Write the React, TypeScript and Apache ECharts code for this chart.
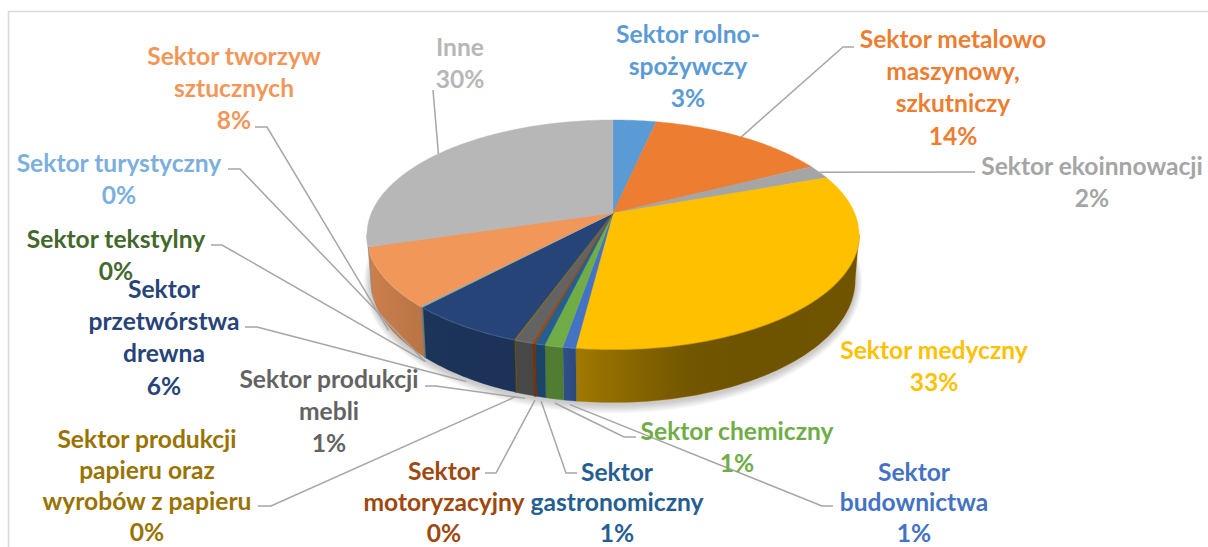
import React, { useEffect, useRef } from "react";
import * as echarts from "echarts";

const sectorLabels = [
  "Sektor rolno-\nspożywczy",
  "Sektor metalowo\nmaszynowy,\nszkutniczy",
  "Sektor ekoinnowacji",
  "Sektor medyczny",
  "Sektor\nbudownictwa",
  "Sektor chemiczny",
  "Sektor\ngastronomiczny",
  "Sektor\nmotoryzacyjny",
  "Sektor produkcji\nmebli",
  "Sektor produkcji\npapieru oraz\nwyrobów z papieru",
  "Sektor\nprzetwórstwa\ndrewna",
  "Sektor tekstylny",
  "Sektor turystyczny",
  "Sektor tworzyw\nsztucznych",
  "Inne",
];
const sectorValues = [3.4, 14.1, 2.0, 32.5, 0.7, 1.0, 0.55, 0.15, 1.0, 0.05, 6.4, 0.05, 0.1, 8.3, 29.7];
const sectorColors = [
  "#5B9BD5", "#ED7D31", "#A5A5A5", "#FFC000", "#4472C4", "#70AD47", "#255E91", "#9E480E",
  "#636363", "#997300", "#264478", "#43682B", "#7CAFDD", "#F1975A", "#B7B7B7",
];
const rimTints = [1.25, 1.25, 1.25, 0.86, 1.25, 1.25, 1.25, 1.25, 1.25, 1.25, 1.25, 1.25, 1.25, 1.25, 1.25];
const labelCentres = [
  [688, 33], [953, 38], [1092, 165], [934, 349], [914, 471], [737, 430], [617, 471], [444, 470],
  [329, 378], [147, 438.5], [164, 288], [116, 238], [119, 162], [234, 55], [460, 46],
];
const labelLineHeights = [32.4, 32.4, 32.4, 32.4, 30.5, 32.4, 30.5, 31, 32.4, 31, 32.4, 32.4, 32.4, 32.4, 32.4];
const leaderElbows: (number[][] | null)[] = [
  null,
  [[843, 47], [854, 47]],
  [[975, 172]],
  null,
  [[822, 506], [833, 506]],
  [[624, 437], [636, 437]],
  [[566, 473], [577, 473]],
  [[496, 473], [485, 473]],
  [[436, 386], [425, 386]],
  [[271, 506], [258, 506]],
  [[257, 327], [245, 327]],
  [[222, 245], [211, 245]],
  [[240, 169], [228, 169]],
  [[267, 127], [255, 127]],
  [[433, 90]],
];

// Perspective disc
const CX = 613, CY = 213, A = 241.6, B = 110.5, K = 0.188;
const ELL_CY = 234.5, BOTTOM_CY = 280, DEPTH_SCALE = 1.07, LOWER_X = 0.985;
const SIDE_FROM = 100.8, SIDE_TO = 259.2;
const rad = (d: number) => (d * Math.PI) / 180;
const topPoint = (deg: number) => {
  const s = Math.sin(rad(deg)), c = Math.cos(rad(deg));
  const w = 1 + K * c;
  return [CX + (A * s) / w, CY - (B * c) / w];
};
const lowerPoint = (p: number[]) => [
  CX + (p[0] - CX) * LOWER_X,
  BOTTOM_CY + (p[1] - ELL_CY) * DEPTH_SCALE,
];
const total = sectorValues.reduce((a, b) => a + b, 0);
const starts: number[] = [];
sectorValues.reduce((acc, v, i) => {
  starts[i] = (acc / total) * 360;
  return acc + v;
}, 0);
const angleOf = (i: number) => [starts[i], starts[i] + (sectorValues[i] / total) * 360];
const arcAngles = (a: number, b: number) => {
  const n = Math.max(1, Math.ceil((b - a) / 1));
  const out: number[] = [];
  for (let i = 0; i <= n; i++) out.push(a + ((b - a) * i) / n);
  return out;
};
const shadeStops = [[367, 0.85], [430, 0.75], [560, 0.72], [578, 0.62], [700, 0.43], [860, 0.44]];
const shadeAt = (x: number) => {
  for (let i = 1; i < shadeStops.length; i++) {
    if (x <= shadeStops[i][0]) {
      const [x0, f0] = shadeStops[i - 1], [x1, f1] = shadeStops[i];
      return f0 + ((f1 - f0) * (x - x0)) / (x1 - x0);
    }
  }
  return 0.44;
};
const tint = (hex: string, f: number) => {
  const n = parseInt(hex.slice(1), 16);
  const ch = [(n >> 16) & 255, (n >> 8) & 255, n & 255].map((v) =>
    f <= 1 ? Math.round(v * f) : Math.round(v + (255 - v) * (f - 1)));
  return `rgb(${ch[0]},${ch[1]},${ch[2]})`;
};

const SHADOW_STEPS = [9, 8, 7, 6, 5, 4, 3, 2, 1];

const renderSlice = (params: any) => {
  const i = params.dataIndex;
  const [a, b] = angleOf(i);
  const color = sectorColors[i];
  const thin = b - a < 1;
  const children: any[] = [];
  if (i === 0) {
    const outline = arcAngles(0, 360).map((d) => lowerPoint(topPoint(d)));
    SHADOW_STEPS.forEach((g) => {
      const sx = (246 + g * 0.8) / 246, sy = (123 + g) / 123;
      children.push({
        type: "polygon",
        shape: { points: outline.map((p) => [CX + (p[0] - CX) * sx, BOTTOM_CY + 2 + (p[1] - BOTTOM_CY) * sy]) },
        style: { fill: "rgba(0,0,0,0.022)" },
      });
    });
  }
  const sa = Math.max(a, SIDE_FROM), sb = Math.min(b, SIDE_TO);
  if (sb > sa) {
    const up = arcAngles(sa, sb).map(topPoint);
    const low = up.map(lowerPoint).reverse();
    const xs = up.map((p) => p[0]);
    const x0 = Math.min(...xs), x1 = Math.max(...xs);
    const stops = [0, 0.2, 0.4, 0.6, 0.8, 1].map((o) => ({
      offset: o,
      color: tint(color, shadeAt(x0 + (x1 - x0) * o)),
    }));
    children.push({
      type: "polygon",
      shape: { points: [...up, ...low] },
      style: {
        fill: new echarts.graphic.LinearGradient(0, 0, 1, 0, stops),
        stroke: tint(color, 0.7),
        lineWidth: thin ? 1 : 0.3,
      },
    });
    children.push({
      type: "polyline",
      shape: { points: up },
      style: { fill: "none", stroke: tint(color, rimTints[i]), lineWidth: 2, opacity: 0.75 },
    });
  }
  children.push({
    type: "polygon",
    shape: { points: [[CX, CY], ...arcAngles(a, b).map(topPoint)] },
    style: { fill: color, stroke: color, lineWidth: thin ? 1 : 0.4 },
  });
  return { type: "group", children };
};

const leaderAnchor = (i: number) => {
  const [a, b] = angleOf(i);
  const mid = (a + b) / 2;
  const p = topPoint(mid);
  if (mid < SIDE_FROM || mid > SIDE_TO) return p;
  const q = lowerPoint(p);
  return [q[0], q[1] + 4];
};

const FONT = 'bold 24.6px Lato, "Open Sans", sans-serif';

export default function App() {
  const ref = useRef<HTMLDivElement>(null);
  useEffect(() => {
    const chart = echarts.init(ref.current!, undefined, { renderer: "svg" });
    const leaders = leaderElbows.flatMap((elbow, i) =>
      elbow
        ? [{
            type: "polyline",
            z: 10,
            silent: true,
            shape: { points: [leaderAnchor(i), ...elbow] },
            style: { fill: "none", stroke: "#A6A6A6", lineWidth: 1.5 },
          }]
        : []);
    const texts = sectorLabels.flatMap((label, i) =>
      [...label.split("\n"), `${Math.round(sectorValues[i])}%`].map((line, k) => ({
        type: "text",
        z: 11,
        silent: true,
        x: labelCentres[i][0],
        y: labelCentres[i][1] + k * labelLineHeights[i],
        style: {
          text: line,
          font: FONT,
          fill: sectorColors[i],
          align: "center",
          verticalAlign: "middle",
        },
      })));
    chart.setOption({
      animation: false,
      backgroundColor: "#fff",
      tooltip: { show: false },
      graphic: {
        elements: [
          {
            type: "rect",
            z: 0,
            silent: true,
            shape: { x: 8.5, y: 11.5, width: 1400, height: 800 },
            style: { fill: "#fff", stroke: "#D9D9D9", lineWidth: 1.5 },
          },
          ...leaders,
          ...texts,
        ],
      },
      series: [
        {
          type: "custom",
          coordinateSystem: "none",
          silent: true,
          z: 5,
          data: sectorValues,
          renderItem: renderSlice,
        },
      ],
    });
    return () => chart.dispose();
  }, []);
  return <div ref={ref} style={{ position: "absolute", left: 0, top: 0, width: 1208, height: 547 }} />;
}
